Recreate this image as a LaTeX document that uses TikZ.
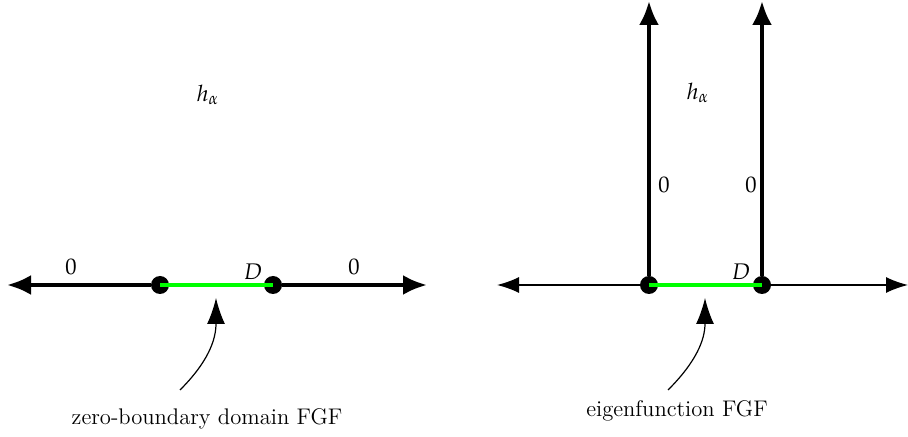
\documentclass[tikz,border=0pt]{standalone}
\usepackage{mathpazo}
\usetikzlibrary{arrows.meta}

\tikzset{
  dot/.style={circle,fill,inner sep=0pt,minimum size=9pt},
  bigarrow/.style={line width=2pt,-{Latex[length=12pt,width=10pt]}},
  thinarrow/.style={line width=0.7pt,-{Latex[length=11pt,width=8pt]}},
  greenseg/.style={green,line width=2pt},
  pointer/.style={line width=0.6pt,-{Latex[length=13pt,width=9pt]}},
}

\begin{document}
\begin{tikzpicture}[x=0.5pt,y=-0.5pt,font=\fontsize{11.3}{13.5}\selectfont]
      \useasboundingbox (0,0) rectangle (908,437);
      % zero-boundary domain
      \coordinate (lw) at (7,285);
      \coordinate (le) at (427,285);
      \node[dot] (la) at (160,285) {};
      \node[dot] (lb) at (273,285) {};
      \draw[greenseg] (la.center) -- (lb.center);
      \draw[bigarrow] (la) -- (lw);
      \draw[bigarrow] (lb) -- (le);
      \node (lz1) at (71,267) {$0$};
      \node (lz2) at (354,267) {$0$};
      \node (ld) at (253,272) {$D$};
      \node (lh) at (208,95) {$h_\alpha$};
      \node (lcap) at (207,419) {zero-boundary domain FGF};
      \coordinate (lp) at (180,390);
      \draw[pointer] (lp) .. controls (208,362) and (216,340) .. (216,298);
      % eigenfunction
      \coordinate (rw) at (497,285);
      \coordinate (re) at (908,285);
      \coordinate (rn1) at (649,1);
      \coordinate (rn2) at (762,1);
      \node[dot] (ra) at (649,285) {};
      \node[dot] (rb) at (762,285) {};
      \draw[thinarrow] (ra) -- (rw);
      \draw[thinarrow] (rb) -- (re);
      \draw[greenseg] (ra.center) -- (rb.center);
      \draw[bigarrow] (ra) -- (rn1);
      \draw[bigarrow] (rb) -- (rn2);
      \node (rz1) at (664,185) {$0$};
      \node (rz2) at (751,185) {$0$};
      \node (rd) at (741,272) {$D$};
      \node (rh) at (698,93) {$h_\alpha$};
      \node (rcap) at (677,411) {eigenfunction FGF};
      \coordinate (rp) at (668,390);
      \draw[pointer] (rp) .. controls (696,362) and (705,340) .. (705,298);
\end{tikzpicture}
\end{document}
